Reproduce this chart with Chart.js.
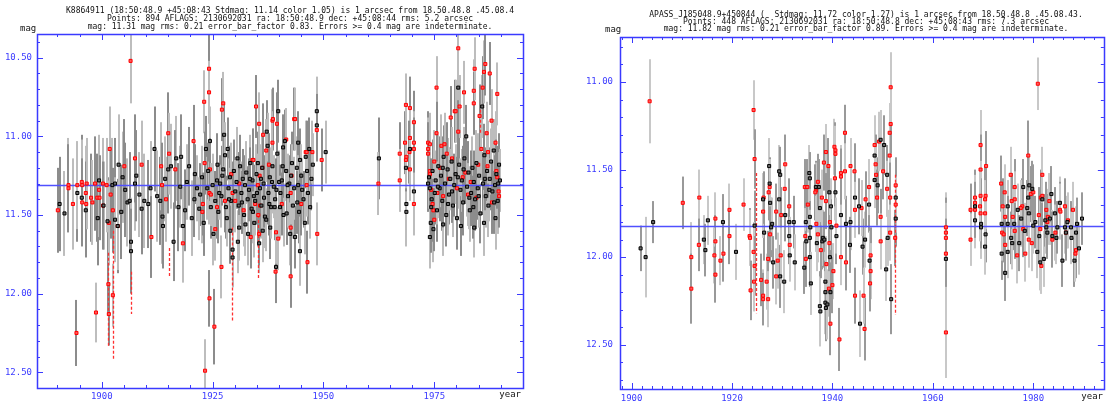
<!DOCTYPE html>
<html><head><meta charset="utf-8">
<script src="https://cdn.jsdelivr.net/npm/chart.js@4/dist/chart.umd.min.js"></script>
<style>
html,body{margin:0;padding:0;background:#fff;width:1107px;height:404px;overflow:hidden;position:relative}
#c1{position:absolute;left:0;top:0;width:540px;height:404px}
#c2{position:absolute;left:560px;top:0;width:547px;height:404px}
</style></head><body>
<canvas id="c1" width="540" height="404"></canvas>
<canvas id="c2" width="547" height="404"></canvas>
<script>
// ---------- titles ----------
const leftTitle = [
 "K8864911 (18:50:48.9 +45:08:43 Stdmag: 11.14 color 1.05) is 1 arcsec from 18.50.48.8 .45.08.4",
 "Points: 894 AFLAGS: 2130692031 ra: 18:50:48.9 dec: +45:08:44 rms: 5.2 arcsec",
 "mag: 11.31 mag rms: 0.21 error_bar_factor 0.83. Errors >= 0.4 mag are indeterminate."
];
const rightTitle = [
 "APASS_J185048.9+450844 (  Stdmag: 11.72 color 1.27) is 1 arcsec from 18.50.48.8 .45.08.43.",
 "Points: 448 AFLAGS: 2130692031 ra: 18:50:48.8 dec: +45:08:43 rms: 7.3 arcsec",
 "mag: 11.82 mag rms: 0.21 error_bar_factor 0.89. Errors >= 0.4 mag are indeterminate."
];
// ---------- tick labels ----------
const leftXTicks = [1900, 1925, 1950, 1975];
const leftYTicks = [10.5, 11.0, 11.5, 12.0, 12.5];
const rightXTicks = [1900, 1920, 1940, 1960, 1980];
const rightYTicks = [11.0, 11.5, 12.0, 12.5];
const leftMean = 11.31;
const rightMean = 11.82;
// ---------- left panel: [year, mag, error] ----------
const leftBlack = [
 [1890.5,11.43,0.3],[1891.6,11.49,0.27],[1894.5,11.36,0.31],[1895.5,11.39,0.28],[1896.4,11.47,0.3],[1899.4,11.28,0.29],[1899.1,11.52,0.3],[1900.4,11.44,0.28],[1901.3,11.54,0.28],
 [1902.4,11.31,0.3],[1903.0,11.30,0.29],[1903.0,11.53,0.27],[1903.6,11.57,0.3],[1903.8,11.18,0.32],[1904.4,11.48,0.3],[1904.7,11.26,0.29],[1905.3,11.34,0.3],[1905.8,11.42,0.28],[1906.3,11.41,0.31],[1906.6,11.67,0.28],[1906.6,11.73,0.27],[1907.5,11.30,0.3],[1907.8,11.25,0.29],[1908.5,11.37,0.27],[1909.0,11.46,0.29],[1909.6,11.41,0.3],[1910.5,11.43,0.28],[1911.0,11.33,0.3],[1911.9,11.08,0.27],[1912.5,11.38,0.29],[1913.2,11.41,0.28],[1913.7,11.51,0.3],[1913.8,11.57,0.27],
 [1914.3,11.27,0.27],[1915.0,11.21,0.28],[1915.6,11.19,0.27],[1916.2,11.67,0.25],[1916.8,11.14,0.27],[1917.3,11.45,0.28],[1917.7,11.32,0.26],[1917.9,11.13,0.27],[1918.3,11.57,0.25],[1918.8,11.47,0.26],[1919.2,11.29,0.24],[1919.7,11.19,0.25],[1920.3,11.52,0.24],[1920.9,11.40,0.24],[1921.5,11.33,0.21],[1922.2,11.37,0.2],[1922.6,11.26,0.2],
 [1923.5,11.08,0.21],[1923.8,11.33,0.2],[1924.0,11.22,0.18],[1924.4,11.03,0.22],[1924.6,11.45,0.2],[1925.2,11.62,0.2],[1925.6,11.41,0.19],[1926.0,11.28,0.2],[1926.3,11.48,0.2],[1926.5,11.36,0.17],[1926.7,11.30,0.18],[1927.0,11.38,0.2],[1927.2,11.25,0.19],[1927.4,11.21,0.2],[1927.6,10.99,0.2],[1927.8,11.12,0.21],[1928.0,11.45,0.2],[1928.2,11.52,0.18],[1928.4,11.08,0.2],[1928.6,11.33,0.19],[1928.9,11.26,0.2],[1929.2,11.41,0.2],[1929.5,11.72,0.2],[1929.5,11.77,0.19],[1929.8,11.22,0.2],[1930.1,11.35,0.2],[1930.4,11.29,0.17],[1930.7,11.67,0.2],[1930.9,11.44,0.18],[1931.0,11.58,0.21],[1931.2,11.19,0.2],[1931.5,11.36,0.2],[1931.8,11.27,0.19],[1932.1,11.50,0.2],[1932.3,11.31,0.19],[1932.6,11.23,0.2],[1932.9,11.40,0.21],[1933.0,11.62,0.2],[1933.2,11.34,0.2],[1933.5,11.17,0.18],[1933.8,11.46,0.2],[1934.0,11.28,0.18],[1934.3,11.38,0.2],[1934.4,11.55,0.22],[1934.6,11.41,0.2],[1934.9,11.24,0.19],[1935.2,11.17,0.2],[1935.5,11.68,0.19],[1935.7,11.33,0.2],[1936.0,11.44,0.21],[1936.2,11.20,0.2],[1936.3,11.60,0.2],[1936.5,11.30,0.18],[1936.8,11.51,0.2],[1937.2,10.97,0.2],[1937.4,11.06,0.21],[1937.6,11.36,0.2],[1937.9,11.26,0.19],[1938.0,11.58,0.2],[1938.2,11.45,0.2],[1938.5,11.19,0.18],[1938.8,11.32,0.2],[1939.0,11.45,0.21],[1939.1,11.40,0.2],[1939.3,11.83,0.2],[1939.6,11.11,0.19],[1939.8,10.84,0.2],[1940.0,11.29,0.2],[1940.3,11.36,0.18],[1940.6,11.28,0.2],[1940.9,11.07,0.21],[1941.0,11.50,0.2],[1941.3,11.03,0.2],[1941.6,11.22,0.19],[1941.7,11.49,0.2],[1942.0,11.38,0.2],[1942.3,11.30,0.18],[1942.5,11.62,0.2],[1942.7,11.25,0.2],[1943.1,11.44,0.21],[1943.6,11.64,0.2],[1944.0,11.20,0.2],[1944.3,11.04,0.2],[1944.3,11.31,0.19],[1944.5,11.48,0.2],[1944.7,11.73,0.22],[1944.7,11.15,0.2],[1945.2,11.34,0.2],[1945.5,11.40,0.18],[1945.8,11.55,0.2],[1946.0,11.13,0.2],[1946.3,11.22,0.19],[1946.8,11.08,0.2],[1947.0,11.45,0.2],[1947.3,11.27,0.2],[1948.5,10.84,0.22],[1948.5,10.93,0.2],[1950.5,11.10,0.2],
 [1921.0,11.24,0.19],[1922.0,11.46,0.2],[1923.0,11.55,0.21],[1925.0,11.31,0.2],[1926.1,11.18,0.2],[1928.7,11.40,0.2],[1929.0,11.60,0.21],[1930.6,11.14,0.2],[1931.6,11.42,0.2],[1932.4,11.56,0.2],[1933.4,11.27,0.2],[1934.1,11.48,0.2],[1935.0,11.36,0.2],[1935.9,11.27,0.2],[1936.6,11.39,0.19],[1937.1,11.53,0.2],[1937.8,11.43,0.2],[1938.4,11.29,0.2],[1939.4,11.34,0.2],[1940.2,11.45,0.2],[1940.8,11.19,0.2],[1941.9,11.31,0.2],[1942.9,11.17,0.2],[1943.4,11.33,0.2],[1944.1,11.42,0.2],[1945.0,11.25,0.2],[1946.5,11.36,0.2],[1947.6,11.18,0.2],
 [1962.5,11.14,0.26],
 [1968.6,11.20,0.2],[1968.7,11.43,0.2],[1968.7,11.48,0.22],[1969.5,11.08,0.2],[1970.4,11.35,0.22],
 [1973.6,11.30,0.18],[1973.8,11.26,0.2],[1974.0,11.33,0.21],[1974.0,11.64,0.2],[1974.2,11.55,0.19],[1974.4,11.40,0.2],[1974.6,11.22,0.2],[1974.8,11.59,0.21],[1975.1,11.36,0.2],[1975.3,11.28,0.19],[1975.6,11.47,0.2],[1975.9,11.19,0.2],[1976.2,11.33,0.21],[1976.5,11.25,0.2],[1976.8,11.41,0.19],[1977.0,11.56,0.2],[1977.1,11.13,0.2],[1977.4,11.30,0.21],[1977.7,11.50,0.2],[1978.0,11.21,0.2],[1978.3,11.37,0.19],[1978.6,11.27,0.2],[1978.9,11.16,0.21],[1979.2,11.44,0.2],[1979.5,11.31,0.2],[1979.8,11.24,0.19],[1980.1,11.52,0.2],[1980.4,10.69,0.22],[1980.6,11.18,0.2],[1980.9,11.34,0.2],[1981.0,11.57,0.19],[1981.2,11.28,0.2],[1981.5,11.42,0.21],[1981.8,11.14,0.2],[1982.2,11.00,0.2],[1982.4,11.32,0.19],[1982.7,11.23,0.2],[1983.0,11.47,0.2],[1983.3,11.36,0.21],[1983.6,11.20,0.2],[1983.9,11.29,0.2],[1984.0,11.58,0.19],[1984.2,11.40,0.2],[1984.5,11.17,0.21],[1984.8,11.33,0.2],[1985.1,11.25,0.2],[1985.4,11.49,0.19],[1985.8,10.81,0.2],[1986.0,11.30,0.2],[1986.2,11.55,0.21],[1986.3,11.12,0.2],[1986.6,11.38,0.2],[1986.9,11.22,0.19],[1987.2,11.44,0.2],[1987.5,11.27,0.2],[1987.8,11.16,0.21],[1988.1,11.35,0.2],[1988.4,11.09,0.2],[1988.7,11.31,0.19],[1988.8,11.52,0.2],[1989.0,11.24,0.2],[1989.3,11.41,0.21],[1989.6,11.18,0.2],[1989.8,11.28,0.2],
 [1974.3,11.45,0.2],[1975.8,11.32,0.2],[1976.9,11.20,0.2],[1978.1,11.43,0.2],[1979.0,11.35,0.2],[1980.3,11.26,0.2],[1981.6,11.21,0.2],[1982.9,11.39,0.2],[1983.8,11.45,0.2],[1985.0,11.38,0.2],[1986.4,11.27,0.2],[1987.4,11.34,0.2],[1988.5,11.42,0.2],[1989.4,11.30,0.2]
];
const leftRed = [
 [1890.1,11.47,0.27],[1892.5,11.31,0.3],[1892.5,11.33,0.28],[1893.5,11.43,0.29],[1894.3,12.25,0.21],[1894.5,11.31,0.28],[1895.5,11.29,0.3],[1895.6,11.31,0.29],[1895.6,11.42,0.28],[1896.4,11.36,0.3],[1896.5,11.43,0.27],[1896.6,11.30,0.29],[1897.6,11.39,0.28],[1897.9,11.42,0.27],[1898.5,11.30,0.3],[1898.7,12.12,0.19],[1899.0,11.39,0.28],[1899.4,11.34,0.3],[1899.5,11.39,0.27],[1900.3,11.30,0.29],[1900.3,11.44,0.28],[1901.1,11.31,0.3],[1901.5,11.94,0.2],[1901.6,11.55,0.27],[1901.6,12.13,0.2],[1901.8,11.08,0.27],[1902.0,11.37,0.28],[1902.5,12.01,0.2],[1902.5,11.47,0.27],[1903.6,11.57,0.28],[1905.1,11.19,0.3],[1906.5,10.52,0.27],[1907.5,11.14,0.28],[1909.0,11.18,0.28],[1911.2,11.64,0.26],[1913.4,11.19,0.28],[1913.6,11.31,0.27],[1914.5,11.40,0.27],[1915.0,10.98,0.26],[1915.2,11.11,0.26],[1916.6,11.21,0.25],[1918.3,11.68,0.25],[1920.7,11.03,0.23],
 [1922.7,11.48,0.2],[1922.8,11.43,0.2],[1923.1,10.78,0.2],[1923.2,11.17,0.2],[1923.3,12.49,0.2],[1924.2,10.57,0.22],[1924.2,10.72,0.2],[1924.3,12.03,0.18],[1924.3,11.36,0.2],[1924.4,11.21,0.2],[1924.6,11.37,0.2],[1925.4,12.21,0.24],[1925.6,11.59,0.2],[1926.0,11.45,0.2],[1927.0,11.83,0.2],[1927.1,10.83,0.2],[1927.4,10.79,0.2],[1927.8,11.41,0.2],[1929.2,11.24,0.2],[1929.5,11.36,0.2],[1930.1,11.41,0.2],[1931.0,11.30,0.2],[1932.0,11.47,0.2],[1933.6,11.64,0.2],[1934.0,11.15,0.2],[1934.2,11.15,0.2],[1934.6,11.43,0.2],[1934.8,10.81,0.2],[1935.2,11.31,0.2],[1935.3,11.50,0.2],[1935.5,10.92,0.2],[1935.5,11.62,0.2],[1935.6,11.25,0.2],[1935.7,11.44,0.2],[1936.2,11.20,0.2],[1936.4,10.99,0.2],[1937.1,11.09,0.2],[1937.7,11.18,0.2],[1938.5,10.90,0.2],[1938.6,10.89,0.2],[1938.5,11.04,0.2],[1939.2,11.86,0.2],[1939.3,11.61,0.2],[1939.5,10.92,0.2],[1939.8,11.65,0.2],[1940.6,11.43,0.2],[1941.6,11.02,0.2],[1942.6,11.58,0.2],[1942.6,11.36,0.2],[1942.6,11.89,0.2],[1942.8,11.25,0.2],[1943.4,10.89,0.2],[1943.6,10.89,0.2],[1945.0,11.43,0.2],[1946.0,11.10,0.2],[1946.2,11.10,0.2],[1946.2,11.31,0.2],[1946.4,11.80,0.2],[1947.5,11.10,0.2],[1948.5,10.96,0.2],[1948.6,11.62,0.2],[1949.6,11.15,0.2],
 [1962.4,11.30,0.2],
 [1967.2,11.11,0.2],[1967.2,11.28,0.2],[1968.4,11.04,0.2],[1968.6,10.80,0.2],[1968.6,11.15,0.2],[1968.7,11.13,0.2],[1969.5,10.82,0.2],[1969.5,11.01,0.2],[1969.4,11.10,0.2],[1969.5,11.21,0.2],[1970.4,10.91,0.2],[1970.4,11.04,0.2],[1970.4,11.08,0.2],[1970.4,11.43,0.2],
 [1973.6,11.04,0.2],[1973.6,11.08,0.2],[1973.6,11.11,0.2],[1974.0,11.22,0.2],[1974.0,11.24,0.2],[1974.0,11.05,0.2],[1974.3,11.34,0.2],[1974.6,11.43,0.2],[1974.8,11.47,0.2],[1975.0,11.16,0.2],[1975.0,11.53,0.2],[1975.5,10.69,0.2],[1975.5,10.98,0.2],[1975.7,11.36,0.2],[1976.3,11.20,0.2],[1976.6,11.06,0.2],[1977.0,11.38,0.2],[1977.3,11.05,0.2],[1977.8,11.11,0.2],[1978.3,11.27,0.2],[1978.7,10.88,0.2],[1979.0,11.14,0.2],[1979.6,10.84,0.2],[1979.8,10.84,0.2],[1980.1,11.33,0.2],[1980.4,10.44,0.2],[1980.4,10.97,0.2],[1980.7,10.81,0.2],[1981.4,11.26,0.2],[1981.7,10.72,0.2],[1982.0,11.23,0.2],[1982.6,11.37,0.2],[1983.2,11.29,0.2],[1983.9,10.71,0.2],[1983.9,10.79,0.2],[1984.1,10.57,0.2],[1984.5,11.39,0.2],[1984.9,11.18,0.2],[1985.2,10.87,0.2],[1985.6,11.08,0.2],[1985.9,10.69,0.2],[1986.2,10.59,0.2],[1986.5,10.54,0.2],[1986.8,10.98,0.2],[1987.0,11.19,0.2],[1987.1,11.10,0.2],[1987.5,10.60,0.2],[1987.9,10.90,0.2],[1988.0,11.42,0.2],[1988.8,11.04,0.2],[1989.0,11.22,0.2],[1989.2,10.73,0.2],[1989.2,11.26,0.2],[1989.5,11.35,0.2],[1989.6,11.38,0.2]
];
// indeterminate: [year, magFrom, magTo]
const leftDashed = [[1901.5,11.74,12.34],[1902.5,11.60,12.42],[1906.6,11.86,12.13],[1915.2,11.71,11.89],[1929.4,11.58,12.18],[1935.2,11.50,11.90],[1985.2,10.83,10.99]];
// ---------- right panel: [year, mag, error] ----------
const rightBlack = [
 [1901.8,11.95,0.13],[1902.8,12.00,0.23],[1904.3,11.80,0.12],[1914.4,11.90,0.14],[1914.7,11.96,0.15],[1915.2,11.79,0.14],[1918.2,11.80,0.16],[1920.8,11.97,0.16],[1924.5,11.82,0.2],[1926.2,11.67,0.15],[1926.4,11.86,0.16],[1927.4,11.48,0.16],[1927.5,11.58,0.15],[1927.6,11.69,0.16],[1927.8,11.83,0.17],[1928.0,11.81,0.15],[1928.2,12.03,0.15],[1929.4,11.51,0.15],[1929.6,11.53,0.16],[1929.4,11.67,0.16],[1929.6,12.11,0.18],[1930.4,12.14,0.18],[1930.6,11.76,0.15],[1931.4,11.80,0.15],[1931.4,11.88,0.16],[1931.5,11.99,0.15],[1932.3,11.80,0.15],[1932.5,12.03,0.16],[1934.4,12.06,0.15],[1934.7,11.80,0.14],[1934.8,11.91,0.15],[1935.4,11.52,0.16],[1935.5,11.55,0.15],[1935.5,11.77,0.16],[1935.6,11.83,0.15],[1935.5,11.89,0.16],[1935.5,12.00,0.17],[1935.7,12.15,0.18],[1936.7,11.60,0.15],[1936.9,11.92,0.16],[1937.3,11.60,0.16],[1937.5,11.72,0.16],[1937.5,12.28,0.2],[1937.6,12.31,0.2],[1938.0,11.91,0.16],[1938.1,11.89,0.16],[1938.4,11.90,0.16],[1938.6,12.14,0.17],[1938.6,12.20,0.18],[1938.6,12.26,0.18],[1938.7,12.29,0.19],[1939.0,12.27,0.2],[1939.4,11.63,0.16],[1939.5,12.00,0.17],[1939.6,12.20,0.17],[1939.7,11.71,0.16],[1939.8,11.83,0.16],[1940.6,11.63,0.16],[1940.8,11.88,0.16],[1941.7,11.76,0.16],[1942.7,11.81,0.16],[1943.6,11.80,0.16],[1943.5,11.93,0.16],[1944.5,11.66,0.16],[1945.3,11.71,0.16],[1945.5,12.38,0.19],[1946.0,11.94,0.16],[1946.5,11.90,0.16],[1947.3,11.70,0.16],[1947.4,12.02,0.17],[1948.4,11.42,0.16],[1948.4,11.56,0.16],[1949.0,11.59,0.16],[1949.6,11.33,0.17],[1950.3,11.36,0.17],[1950.7,12.07,0.18],[1950.9,11.53,0.17],[1951.0,11.89,0.16],[1951.7,12.24,0.2],[1952.6,11.66,0.16],[1952.6,11.78,0.16],
 [1962.6,12.01,0.2],
 [1968.4,11.71,0.16],[1968.4,11.79,0.16],[1969.6,11.81,0.18],[1969.6,11.83,0.18],[1970.5,11.87,0.16],[1970.4,11.94,0.16],
 [1973.7,11.98,0.15],[1973.7,11.81,0.15],[1974.4,12.09,0.16],[1974.9,11.71,0.15],[1974.9,11.81,0.16],[1974.9,11.97,0.15],[1975.6,11.89,0.15],[1975.8,11.92,0.15],[1976.2,11.81,0.15],[1976.9,11.73,0.15],[1977.2,11.92,0.16],[1977.6,11.78,0.16],[1978.0,11.60,0.16],[1978.3,11.85,0.16],[1978.8,11.72,0.16],[1979.0,11.66,0.16],[1979.1,11.75,0.16],[1979.2,11.59,0.16],[1979.8,11.61,0.16],[1980.0,11.82,0.16],[1980.4,11.80,0.15],[1980.8,11.97,0.15],[1981.2,11.88,0.15],[1981.4,12.03,0.16],[1981.8,11.67,0.15],[1982.1,12.01,0.16],[1982.4,11.79,0.15],[1982.6,11.83,0.15],[1982.8,11.86,0.15],[1983.3,11.78,0.15],[1983.6,11.64,0.16],[1983.8,11.88,0.15],[1984.3,11.75,0.15],[1984.6,11.89,0.15],[1984.8,11.83,0.15],[1985.3,11.69,0.15],[1985.8,12.02,0.15],[1986.3,11.83,0.15],[1986.5,11.86,0.15],[1986.8,11.80,0.15],[1987.5,11.83,0.15],[1987.6,11.89,0.15],[1988.2,12.02,0.15],[1988.5,11.86,0.15],[1988.7,11.81,0.15],[1989.1,11.95,0.15],[1989.7,11.78,0.15]
];
const rightRed = [
 [1903.6,11.11,0.24],[1910.2,11.69,0.15],[1911.9,12.00,0.2],[1911.9,12.18,0.2],[1913.5,11.66,0.16],[1913.4,11.93,0.15],[1916.7,11.78,0.15],[1916.7,11.91,0.15],[1916.5,11.99,0.16],[1916.7,12.10,0.16],[1917.7,12.02,0.14],[1918.3,11.98,0.16],[1919.5,11.73,0.15],[1919.5,11.88,0.16],[1922.3,11.70,0.15],[1923.5,11.88,0.16],[1923.6,11.89,0.16],[1923.7,12.19,0.17],[1924.3,11.16,0.17],[1924.5,11.44,0.17],[1924.3,11.97,0.17],[1924.5,12.05,0.17],[1924.4,12.14,0.17],
 [1925.8,12.13,0.15],[1926.2,12.22,0.15],[1926.2,12.24,0.15],[1926.2,11.74,0.15],[1926.3,11.66,0.15],[1926.9,12.14,0.16],[1927.2,12.01,0.16],[1927.2,12.24,0.16],[1927.3,11.63,0.16],[1927.5,11.60,0.16],[1927.6,11.87,0.16],[1928.8,12.11,0.16],[1928.8,11.74,0.16],[1929.1,12.02,0.16],[1929.8,11.76,0.16],[1929.7,11.99,0.16],[1930.6,11.47,0.17],[1930.5,11.61,0.16],[1931.4,11.71,0.16],[1931.5,11.93,0.16],[1934.5,11.60,0.16],[1934.6,11.88,0.16],[1934.7,12.01,0.16],[1935.1,11.70,0.16],[1935.0,11.60,0.16],[1936.7,11.62,0.16],[1936.6,11.63,0.16],[1936.8,11.81,0.16],[1937.1,11.57,0.16],[1937.1,11.87,0.16],[1937.7,11.96,0.16],[1937.9,11.66,0.16],[1938.3,11.46,0.16],[1938.7,11.40,0.16],[1938.7,11.68,0.16],[1938.8,12.04,0.16],[1939.2,11.48,0.16],[1939.3,12.18,0.16],[1939.6,12.38,0.18],[1939.5,11.80,0.16],[1939.4,11.92,0.16],[1940.4,11.37,0.16],[1940.6,11.39,0.16],[1940.6,11.41,0.16],[1940.5,11.55,0.16],[1940.2,12.08,0.16],[1940.0,12.16,0.16],[1940.8,11.82,0.16],[1941.4,12.47,0.18],[1941.7,11.52,0.16],[1941.7,11.54,0.16],[1941.7,12.00,0.16],[1942.5,11.29,0.16],[1942.5,11.51,0.16],[1942.7,12.03,0.16],[1943.6,11.48,0.16],[1944.4,11.51,0.16],[1944.5,11.73,0.16],[1944.5,12.22,0.16],[1945.8,11.72,0.16],[1946.4,12.41,0.18],[1946.2,12.22,0.16],[1946.6,11.67,0.16],[1947.3,11.60,0.16],[1947.6,11.99,0.16],[1947.6,12.08,0.16],[1947.5,12.15,0.16],[1948.4,11.36,0.17],[1948.6,11.47,0.17],[1948.7,11.53,0.16],[1948.9,11.66,0.16],[1949.3,11.34,0.17],[1949.6,11.77,0.16],[1949.6,11.91,0.16],[1950.1,11.51,0.16],[1950.9,11.61,0.16],[1951.4,11.42,0.17],[1951.4,11.29,0.17],[1951.6,11.24,0.17],[1951.6,11.03,0.2],[1951.5,11.66,0.16],[1951.5,11.86,0.16],[1952.6,11.59,0.16],[1952.6,11.70,0.16],[1952.5,11.89,0.16],
 [1962.6,11.83,0.2],[1962.6,11.86,0.2],[1962.6,11.89,0.2],[1962.6,11.98,0.2],[1962.6,12.43,0.26],
 [1967.5,11.73,0.15],[1967.5,11.90,0.15],[1968.4,11.66,0.16],[1968.4,11.69,0.16],[1968.4,11.73,0.16],[1969.5,11.36,0.2],[1969.5,11.50,0.2],[1969.5,11.65,0.2],[1969.5,11.75,0.2],[1969.4,11.71,0.2],[1970.4,11.67,0.19],[1970.5,11.65,0.19],[1970.6,11.48,0.2],[1970.4,11.75,0.19],
 [1973.6,11.58,0.16],[1974.3,11.63,0.16],[1973.9,11.71,0.16],[1973.8,11.86,0.16],[1974.1,11.87,0.16],[1974.4,11.77,0.16],[1974.4,11.93,0.16],[1975.5,11.53,0.16],[1975.7,11.68,0.16],[1975.9,11.77,0.16],[1976.3,11.60,0.16],[1976.3,11.67,0.16],[1976.3,11.85,0.16],[1976.8,11.99,0.16],[1977.8,11.71,0.16],[1977.5,11.72,0.16],[1978.0,11.84,0.16],[1978.4,11.98,0.16],[1979.0,11.42,0.2],[1979.1,11.90,0.16],[1979.5,11.64,0.16],[1979.7,11.92,0.16],[1980.0,11.63,0.16],[1980.9,11.01,0.15],[1981.1,11.76,0.16],[1981.4,11.84,0.16],[1981.5,11.66,0.16],[1981.6,12.05,0.16],[1981.8,11.65,0.16],[1981.8,11.53,0.16],[1982.6,11.73,0.16],[1982.9,11.77,0.16],[1982.8,11.80,0.16],[1983.2,11.68,0.16],[1983.8,11.90,0.16],[1984.4,11.86,0.16],[1985.3,11.73,0.16],[1985.4,11.74,0.16],[1986.3,11.71,0.16],[1986.9,11.79,0.16],[1986.5,11.86,0.16],[1987.9,11.73,0.16],[1988.5,11.96,0.16],[1988.4,11.98,0.16]
];
const rightDashed = [[1924.7,11.52,12.32],[1952.5,11.53,12.33]];

const BLUE = '#3a3aff';
const MONO = '"DejaVu Sans Mono", "Liberation Mono", monospace';

function isMult(v, m){ return Math.abs(v/m - Math.round(v/m)) < 1e-6; }

function makeChart(id, p){
  const pts = a => a.map(d => ({x:d[0], y:d[1]}));
  const plugin = {
    id: 'dasch',
    beforeDatasetsDraw(chart){
      const {ctx, chartArea:a, scales:{x, y}} = chart;
      ctx.save();
      ctx.beginPath(); ctx.rect(a.left, a.top, a.right-a.left, a.bottom-a.top); ctx.clip();
      const all = p.black.concat(p.red);
      all.forEach((d, i) => {
        const px = Math.round(x.getPixelForValue(d[0]));
        const y1 = y.getPixelForValue(d[1]-d[2]), y2 = y.getPixelForValue(d[1]+d[2]);
        ctx.fillStyle = (i % 2 === 0) ? p.barDark : p.barLight;
        ctx.fillRect(px-1, Math.min(y1,y2), 2, Math.abs(y2-y1));
      });
      ctx.strokeStyle = '#ff3030'; ctx.lineWidth = 1.3; ctx.setLineDash([3,2]);
      p.dashed.forEach(d => {
        const px = Math.round(x.getPixelForValue(d[0])) + 0.5;
        ctx.beginPath(); ctx.moveTo(px, y.getPixelForValue(d[1])); ctx.lineTo(px, y.getPixelForValue(d[2])); ctx.stroke();
      });
      ctx.setLineDash([]);
      const my = Math.round(y.getPixelForValue(p.mean)) + 0.5;
      ctx.strokeStyle = '#5050ff'; ctx.lineWidth = 1.4;
      ctx.beginPath(); ctx.moveTo(a.left, my); ctx.lineTo(a.right, my); ctx.stroke();
      ctx.restore();
    },
    afterDraw(chart){
      const {ctx, chartArea:a, scales:{x, y}} = chart;
      ctx.save();
      ctx.strokeStyle = BLUE; ctx.lineWidth = 1.5;
      ctx.strokeRect(Math.round(a.left)+0.5, Math.round(a.top)+0.5, Math.round(a.right-a.left), Math.round(a.bottom-a.top));
      ctx.lineWidth = 1;
      ctx.beginPath();
      for (let k = Math.ceil(y.min*10 - 1e-9); k <= Math.floor(y.max*10 + 1e-9); k++){
        const v = k/10, py = Math.round(y.getPixelForValue(v)) + 0.5;
        const len = (k % 5 === 0) ? 6 : 3;
        ctx.moveTo(a.left, py); ctx.lineTo(a.left+len, py);
        ctx.moveTo(a.right, py); ctx.lineTo(a.right-len, py);
      }
      for (let k = Math.ceil(x.min/p.xMinor); k <= Math.floor(x.max/p.xMinor); k++){
        const v = k*p.xMinor, px = Math.round(x.getPixelForValue(v)) + 0.5;
        const len = isMult(v, p.xMajor) ? 6 : 3;
        ctx.moveTo(px, a.bottom); ctx.lineTo(px, a.bottom-len);
        ctx.moveTo(px, a.top); ctx.lineTo(px, a.top+len);
      }
      ctx.stroke();
      ctx.fillStyle = '#111';
      ctx.font = '8px ' + MONO;
      ctx.textBaseline = 'middle';
      ctx.textAlign = 'center';
      p.title.forEach((t, i) => ctx.fillText(t, p.titleX, p.titleY[i]));
      ctx.font = '9px ' + MONO;
      ctx.textAlign = 'left';
      ctx.fillText('mag', p.magX, p.magY);
      ctx.textAlign = 'right';
      ctx.fillText('year', p.yearX, p.yearY);
      ctx.restore();
    }
  };
  return new Chart(document.getElementById(id), {
    type: 'scatter',
    data: { datasets: [
      { data: pts(p.black), pointStyle:'rect', pointRadius:2.15, backgroundColor:'#6a6a6a', borderColor:'#000', borderWidth:1 },
      { data: pts(p.red), pointStyle:'rect', pointRadius:2.15, backgroundColor:'#ff5a5a', borderColor:'#ff0000', borderWidth:1 }
    ]},
    options: {
      responsive:false, animation:false, devicePixelRatio:1,
      layout:{ padding:{ top:p.padTop, right:p.padRight, left:0, bottom:0 } },
      plugins:{ legend:{display:false}, tooltip:{enabled:false} },
      elements:{ point:{ hoverRadius:2.15 } },
      scales:{
        x:{ type:'linear', min:p.xRange[0], max:p.xRange[1],
            grid:{display:false, drawTicks:false, tickLength:0}, border:{display:false},
            afterFit(s){ s.height = p.xAxisH; },
            afterBuildTicks(s){ s.ticks = p.xTicks.map(v => ({value:v})); },
            ticks:{ autoSkip:false, maxRotation:0, padding:p.xPad, color:BLUE, font:{family:MONO, size:9},
                    callback: v => String(v) } },
        y:{ type:'linear', reverse:true, min:p.yRange[0], max:p.yRange[1],
            grid:{display:false, drawTicks:false, tickLength:0}, border:{display:false},
            afterFit(s){ s.width = p.yAxisW; },
            afterBuildTicks(s){ s.ticks = p.yTicks.map(v => ({value:v})); },
            ticks:{ autoSkip:false, padding:p.yPad, color:BLUE, font:{family:MONO, size:9},
                    callback: v => Number(v).toFixed(2) } }
      }
    },
    plugins:[plugin]
  });
}

makeChart('c1', {
  black:leftBlack, red:leftRed, dashed:leftDashed, mean:leftMean,
  xTicks:leftXTicks, yTicks:leftYTicks, xRange:[1885.4,1995.0], yRange:[10.349,12.6],
  xMinor:5, xMajor:25, padTop:34, padRight:17, xAxisH:16, yAxisW:37, xPad:3, yPad:5,
  barDark:'#8c8c8c', barLight:'#bdbdbd',
  title:leftTitle, titleX:290, titleY:[11,19,26.7], magX:20, magY:29, yearX:521, yearY:395
});
makeChart('c2', {
  black:rightBlack, red:rightRed, dashed:rightDashed, mean:rightMean,
  xTicks:rightXTicks, yTicks:rightYTicks, xRange:[1897.7,1994.05], yRange:[10.743,12.753],
  xMinor:2, xMajor:20, padTop:37, padRight:2, xAxisH:15, yAxisW:60, xPad:4, yPad:7,
  barDark:'#999999', barLight:'#c8c8c8',
  title:rightTitle, titleX:306, titleY:[15,22.3,29.3], magX:45, magY:30, yearX:543, yearY:397
});
</script>
</body></html>
